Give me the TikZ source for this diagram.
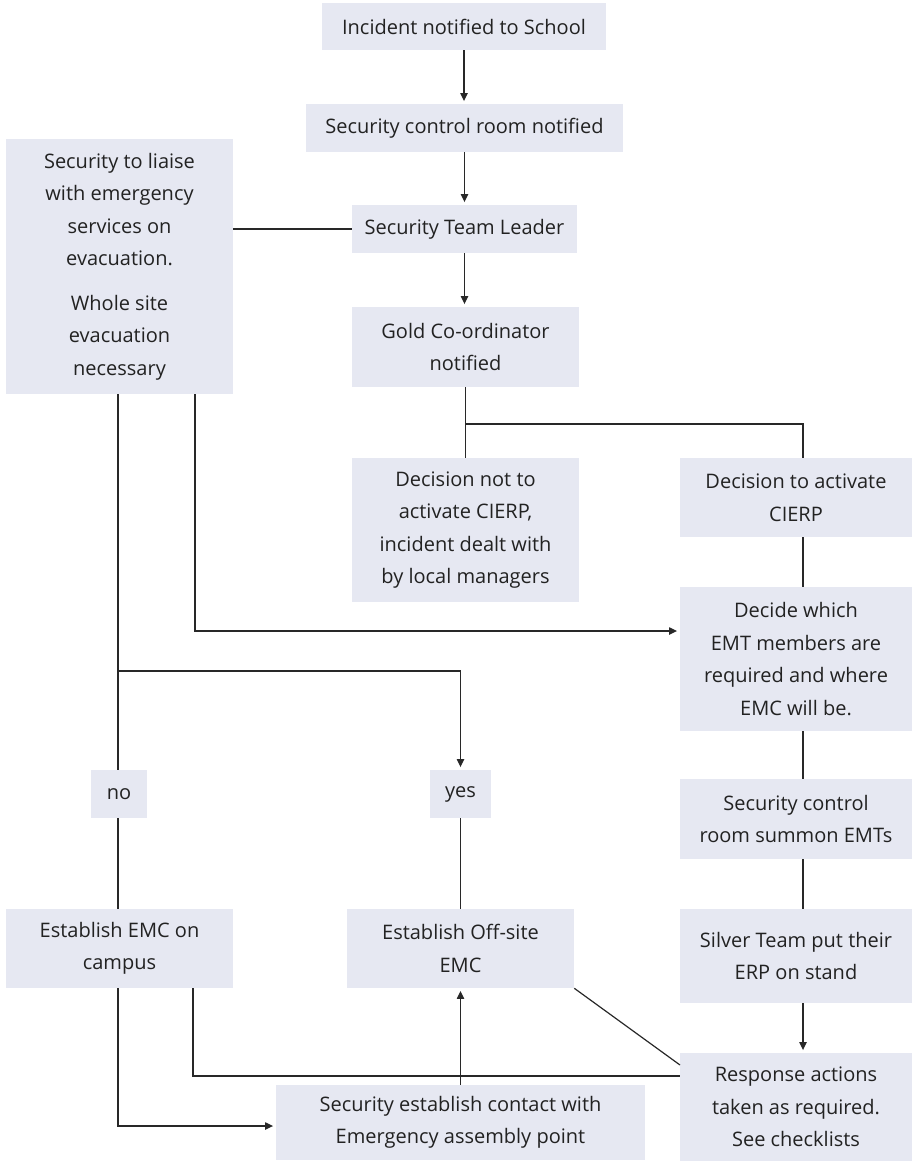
\documentclass[tikz,border=0pt]{standalone}
\usepackage{fontspec}
\setmainfont{Open Sans}
\usetikzlibrary{arrows.meta}
\definecolor{boxfill}{RGB}{230,232,242}
\definecolor{linegray}{RGB}{40,40,40}
\definecolor{txt}{RGB}{34,34,34}

\begin{document}
\begin{tikzpicture}[x=0.75pt, y=-0.75pt]
 \tikzstyle{box} = [fill=boxfill, text=txt, inner sep=0pt, align=center, font=\fontsize{15}{24.4}\selectfont];
 \tikzstyle{link} = [draw=linegray, line width=0.9pt];
 \tikzstyle{flow} = [-{Triangle[length=6pt,width=5.5pt]}, shorten >=2pt];
\useasboundingbox (0,0) rectangle (914,1161);

% middle column
\node [box, minimum width=213pt, minimum height=35.25pt] (inc) at (464,26.5) {Incident notified to School};
\node [box, minimum width=237.75pt, minimum height=36pt] (scr) at (464.5,128) {Security control room notified};
\node [box, minimum width=168.75pt, minimum height=36pt] (stl) at (464.5,229) {Security Team Leader};
\node [box, minimum width=170.25pt, minimum height=60pt] (gold) at (465.5,347) {Gold Co-ordinator\\ notified};
\node [box, minimum width=170.25pt, minimum height=108pt] (notact) at (465.5,530) {Decision not to\\ activate CIERP,\\ incident dealt with\\ by local managers};

% left column
\node [box, minimum width=170.25pt, minimum height=191.25pt] (liaise) at (119.5,266.5) {Security to liaise\\ with emergency\\ services on\\ evacuation.\\[9pt] Whole site\\ evacuation\\ necessary};
\node [box, minimum width=42pt, minimum height=36pt] (no) at (119,794) {no};
\node [box, minimum width=170.25pt, minimum height=59.25pt] (campus) at (119.5,948.5) {Establish EMC on\\ campus};

% yes branch
\node [box, minimum width=45.75pt, minimum height=36pt] (yes) at (460.5,794) {yes};
\node [box, minimum width=170.25pt, minimum height=59.25pt] (offsite) at (460.5,948.5) {Establish Off-site\\ EMC};
\node [box, minimum width=276.75pt, minimum height=56.25pt] (contact) at (460.5,1122.5) {Security establish contact with\\ Emergency assembly point};

% right column
\node [box, minimum width=174pt, minimum height=59.25pt] (act) at (796,497.5) {Decision to activate\\ CIERP};
\node [box, minimum width=174pt, minimum height=108pt] (decide) at (796,659) {Decide which\\ EMT members are\\ required and where\\ EMC will be.};
\node [box, minimum width=174pt, minimum height=60pt] (summon) at (796,819) {Security control\\ room summon EMTs};
\node [box, minimum width=174pt, minimum height=70.5pt] (silver) at (796,956) {Silver Team put their\\ ERP on stand};
\node [box, minimum width=174pt, minimum height=81pt] (resp) at (796,1107) {Response actions\\ taken as required.\\ See checklists};

\coordinate (rx) at (803,424);
\coordinate (la) at (118,671);
\coordinate (lb) at (195,631);
\coordinate (ca) at (193,1076);
\coordinate (cb) at (118,1126);
\coordinate (d1) at (680,1065);

\draw [link, flow] (inc.south) -- (inc.south |- scr.north);
\draw [link, flow] (scr.south) -- (scr.south |- stl.north);
\draw [link, flow] (stl.south) -- (stl.south |- gold.north);
\draw [link] (stl.west) -- (stl.west -| liaise.east);

\draw [link] (gold.south) -- (gold.south |- rx) -- (rx) -- (rx |- act.north);
\draw [link] (gold.south |- rx) -- (notact.north);
\draw [link] (act.south -| rx) -- (decide.north -| rx);
\draw [link] (decide.south -| rx) -- (summon.north -| rx);
\draw [link] (summon.south -| rx) -- (silver.north -| rx);
\draw [link, flow] (silver.south -| rx) -- (resp.north -| rx);

\draw [link, flow] (liaise.south -| lb) -- (lb) -- (lb -| decide.west);
\draw [link] (liaise.south -| la) -- (no.north -| la);
\draw [link, flow] (la) -- (la -| yes.north) -- (yes.north);
\draw [link] (no.south -| la) -- (campus.north -| la);
\draw [link] (yes.south) -- (offsite.north);

\draw [link] (campus.south -| ca) -- (ca) -- (ca -| resp.west);
\draw [link, flow] (campus.south -| cb) -- (cb) -- (cb -| contact.west);
\draw [link, flow] (contact.north) -- (offsite.south);
\draw [link] (offsite.south east) -- (d1);

\end{tikzpicture}
\end{document}
